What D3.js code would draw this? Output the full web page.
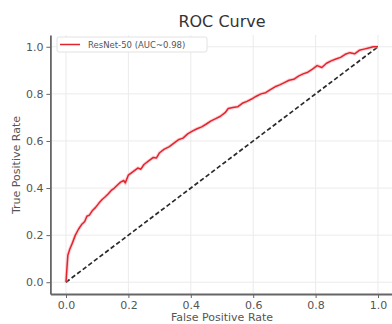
<!DOCTYPE html>
<html>
<head>
<meta charset="utf-8">
<script src="https://cdn.jsdelivr.net/npm/d3@7"></script>
<style>
  body { margin: 0; background: #fff; }
  svg { display: block; font-family: 'DejaVu Sans', sans-serif; }
</style>
</head>
<body>
<div id="chart"></div>
<script>
// ROC points
let fpr = [0.000, 0.003, 0.006, 0.012, 0.020, 0.030, 0.040, 0.050, 0.060, 0.067,
  0.075, 0.085, 0.095, 0.105, 0.115, 0.125, 0.135, 0.145, 0.155, 0.165,
  0.175, 0.185, 0.190, 0.200, 0.215, 0.230, 0.240, 0.250, 0.265, 0.280,
  0.290, 0.300, 0.315, 0.330, 0.345, 0.360, 0.375, 0.390, 0.405, 0.420,
  0.435, 0.450, 0.465, 0.480, 0.495, 0.510, 0.520, 0.535, 0.550, 0.565,
  0.580, 0.595, 0.610, 0.625, 0.640, 0.655, 0.670, 0.685, 0.700, 0.715,
  0.730, 0.745, 0.760, 0.775, 0.790, 0.805, 0.820, 0.835, 0.850, 0.865,
  0.880, 0.895, 0.910, 0.925, 0.940, 0.955, 0.970, 0.985, 1.000]
let tpr = [0.000, 0.060, 0.115, 0.140, 0.165, 0.200, 0.225, 0.245, 0.258, 0.280,
  0.285, 0.305, 0.318, 0.335, 0.350, 0.362, 0.375, 0.390, 0.400, 0.413,
  0.425, 0.432, 0.422, 0.455, 0.470, 0.485, 0.480, 0.500, 0.515, 0.530,
  0.528, 0.550, 0.565, 0.575, 0.590, 0.605, 0.612, 0.630, 0.642, 0.652,
  0.660, 0.672, 0.685, 0.695, 0.705, 0.720, 0.738, 0.742, 0.745, 0.760,
  0.768, 0.778, 0.790, 0.800, 0.805, 0.818, 0.830, 0.838, 0.848, 0.858,
  0.862, 0.875, 0.885, 0.892, 0.905, 0.920, 0.912, 0.930, 0.940, 0.948,
  0.955, 0.968, 0.975, 0.970, 0.985, 0.990, 0.995, 1.000, 1.000]
let chance = [0, 1]
let ticks = [0, 0.2, 0.4, 0.6, 0.8, 1.0]
let seriesLabel = 'ResNet-50 (AUC~0.98)'

let totalWidth = 392
let totalHeight = 324
let margin = { top: 35, left: 50.4, right: -1.6, bottom: 30 }
let width = totalWidth - margin.left - margin.right
let height = totalHeight - margin.top - margin.bottom

let svg = d3.select('#chart')
  .append('svg')
  .attr('width', totalWidth)
  .attr('height', totalHeight)

let g = svg.append('g')
  .attr('transform', `translate(${margin.left},${margin.top})`)

let xPositionScale = d3.scaleLinear().domain([-0.05, 1.05]).range([0, width])
let yPositionScale = d3.scaleLinear().domain([-0.05, 1.05]).range([height, 0])

// grid
g.selectAll('.vgrid')
  .data(ticks)
  .enter()
  .append('line')
  .attr('x1', d => xPositionScale(d))
  .attr('x2', d => xPositionScale(d))
  .attr('y1', 0)
  .attr('y2', height)
  .attr('stroke', '#ebebeb')
  .attr('stroke-width', 1)

g.selectAll('.hgrid')
  .data(ticks)
  .enter()
  .append('line')
  .attr('x1', 0)
  .attr('x2', width)
  .attr('y1', d => yPositionScale(d))
  .attr('y2', d => yPositionScale(d))
  .attr('stroke', '#ebebeb')
  .attr('stroke-width', 1)

// chance diagonal
g.append('line')
  .attr('x1', xPositionScale(chance[0]))
  .attr('y1', yPositionScale(chance[0]))
  .attr('x2', xPositionScale(chance[1]))
  .attr('y2', yPositionScale(chance[1]))
  .attr('stroke', '#2a2a2a')
  .attr('stroke-width', 1.7)
  .attr('stroke-dasharray', '4.5,2.5')

let points = fpr.map((d, i) => ({ x: d, y: tpr[i] }))
let line = d3.line()
  .x(d => xPositionScale(d.x))
  .y(d => yPositionScale(d.y))

// soft halo like the blurry original
g.append('path')
  .datum(points)
  .attr('d', line)
  .attr('fill', 'none')
  .attr('stroke', '#f4a0a6')
  .attr('stroke-width', 3.5)
  .attr('opacity', 0.45)

g.append('path')
  .datum(points)
  .attr('d', line)
  .attr('fill', 'none')
  .attr('stroke', '#e3242f')
  .attr('stroke-width', 1.5)
  .attr('stroke-linejoin', 'round')

// axes
let xAxis = d3.axisBottom(xPositionScale)
  .tickValues(ticks)
  .tickFormat(d3.format('.1f'))
  .tickSize(4)
  .tickSizeOuter(0)
  .tickPadding(3)
let yAxis = d3.axisLeft(yPositionScale)
  .tickValues(ticks)
  .tickFormat(d3.format('.1f'))
  .tickSize(4)
  .tickSizeOuter(0)
  .tickPadding(3)

g.append('g')
  .attr('class', 'axis x-axis')
  .attr('transform', `translate(0,${height})`)
  .call(xAxis)
g.append('g')
  .attr('class', 'axis y-axis')
  .call(yAxis)

g.selectAll('.axis .domain')
  .attr('stroke', '#666')
  .attr('stroke-width', 1.8)
g.selectAll('.axis .tick line')
  .attr('stroke', '#666')
  .attr('stroke-width', 1)
g.selectAll('.axis text')
  .attr('font-size', 11)
  .attr('font-family', 'DejaVu Sans, sans-serif')
  .attr('fill', '#555')

// titles
svg.append('text')
  .text('ROC Curve')
  .attr('x', 222)
  .attr('y', 27)
  .attr('text-anchor', 'middle')
  .attr('font-size', 16)
  .attr('fill', '#333')

svg.append('text')
  .text('False Positive Rate')
  .attr('x', 222)
  .attr('y', 321)
  .attr('text-anchor', 'middle')
  .attr('font-size', 11)
  .attr('fill', '#555')

svg.append('text')
  .text('True Positive Rate')
  .attr('transform', 'translate(20,165) rotate(-90)')
  .attr('text-anchor', 'middle')
  .attr('font-size', 11)
  .attr('fill', '#555')

// legend
let legend = svg.append('g').attr('transform', 'translate(57,37)')
legend.append('rect')
  .attr('width', 150)
  .attr('height', 15)
  .attr('rx', 2)
  .attr('fill', '#fff')
  .attr('stroke', '#e2e2e2')
legend.append('line')
  .attr('x1', 3)
  .attr('x2', 23)
  .attr('y1', 7.5)
  .attr('y2', 7.5)
  .attr('stroke', '#e3242f')
  .attr('stroke-width', 1.5)
legend.append('text')
  .text(seriesLabel)
  .attr('x', 31)
  .attr('y', 10.5)
  .attr('font-size', 8.5)
  .attr('fill', '#555')
</script>
</body>
</html>
